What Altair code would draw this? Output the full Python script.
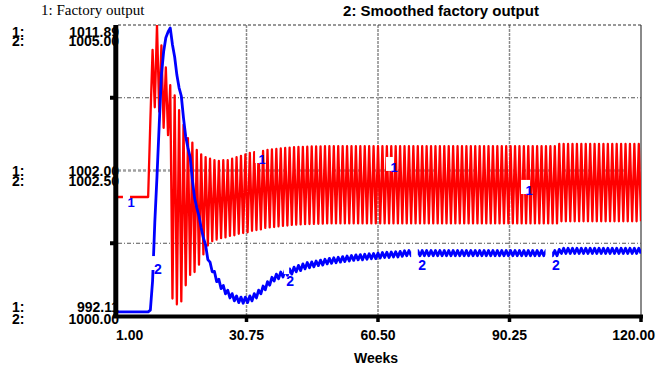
import altair as alt
import pandas as pd

# ---------------- data ----------------
weeks = list(range(1, 121))
half_weeks = [w + 0.5 for w in weeks[:-1]]

# 1: Factory output  (values at whole weeks and at half weeks)
red_on_week = [
    1000.2, 1000.2, 1000.2, 1000.2, 1000.2, 1000.2, 1000.2, 1000.2,
    1005.4, 1006.3, 1006.0, 1004.9, 1004.4, 993.3, 992.9, 993.1, 994.2, 994.9, 995.1, 995.6, 996.3,
    996.9, 997.2, 997.3, 997.4, 997.45, 997.55, 997.6, 997.7, 997.75, 997.8,
    997.9, 997.95, 998.0, 998.1, 998.13, 998.16, 998.2, 998.23, 998.26, 998.3,
    998.32, 998.34, 998.35, 998.36, 998.37, 998.38, 998.39, 998.4,
    998.4, 998.4, 998.4, 998.4, 998.4, 998.4, 998.4, 998.4, 998.4, 998.4, 998.4, 998.4, 998.4,
    998.4, 998.4, 998.4, 998.4, 998.4, 998.4, 998.4, 998.4, 998.4, 998.4, 998.4, 998.4, 998.4,
    998.4, 998.4, 998.4, 998.4, 998.4, 998.4, 998.4, 998.4, 998.4, 998.4, 998.4, 998.4, 998.4,
    998.4, 998.4, 998.4, 998.4, 998.4, 998.4, 998.4, 998.4, 998.4, 998.4, 998.4, 998.4, 998.4,
    998.55, 998.55, 998.55, 998.55, 998.55, 998.55, 998.55, 998.55, 998.55, 998.55,
    998.55, 998.55, 998.55, 998.55, 998.55, 998.55, 998.55, 998.55, 998.55,
]
red_mid_week = [
    1000.2, 1000.2, 1000.2, 1000.2, 1000.2, 1000.2, 1000.2, 1000.2,
    1010.2, 1011.9, 1010.5, 1009.0, 1007.8, 1007.1, 1006.1, 1005.1, 1004.2, 1003.9, 1003.4, 1003.1, 1002.9,
    1002.8, 1002.7, 1002.65, 1002.7, 1002.7, 1002.8, 1002.9, 1003.0, 1003.1, 1003.2,
    1003.25, 1003.3, 1003.33, 1003.4, 1003.43, 1003.46, 1003.5, 1003.53, 1003.56, 1003.58,
    1003.6, 1003.61, 1003.62, 1003.63, 1003.64, 1003.64, 1003.65, 1003.65,
    1003.65, 1003.65, 1003.65, 1003.65, 1003.65, 1003.65, 1003.65, 1003.65, 1003.65, 1003.65,
    1003.65, 1003.65, 1003.65, 1003.65, 1003.65, 1003.65, 1003.65, 1003.65, 1003.65, 1003.65,
    1003.65, 1003.65, 1003.65, 1003.65, 1003.65, 1003.65, 1003.65, 1003.65, 1003.65, 1003.65,
    1003.65, 1003.65, 1003.65, 1003.65, 1003.65, 1003.65, 1003.65, 1003.65, 1003.65, 1003.65,
    1003.65, 1003.65, 1003.65, 1003.65, 1003.65, 1003.65, 1003.65, 1003.65, 1003.65, 1003.65,
    1003.65,
    1003.8, 1003.8, 1003.8, 1003.8, 1003.8, 1003.8, 1003.8, 1003.8, 1003.8, 1003.8,
    1003.8, 1003.8, 1003.8, 1003.8, 1003.8, 1003.8, 1003.8, 1003.8, 1003.8,
]

# 2: Smoothed factory output
blue_on_week = [
    1000.07, 1000.07, 1000.07, 1000.07, 1000.07, 1000.07, 1000.07, 1000.07,
    1000.10, 1001.60, 1003.28, 1004.54, 1004.88, 1004.66, 1004.14, 1003.78, 1003.08, 1002.73, 1002.03, 1001.72, 1001.34,
    1000.97, 1000.76, 1000.59, 1000.47, 1000.38, 1000.31, 1000.26, 1000.23, 1000.22, 1000.23,
    1000.26, 1000.31, 1000.38, 1000.45, 1000.53, 1000.60, 1000.64, 1000.67, 1000.70, 1000.72,
    1000.76, 1000.78, 1000.81, 1000.83, 1000.845, 1000.865, 1000.875, 1000.895, 1000.905, 1000.915,
    1000.925, 1000.935, 1000.945, 1000.955, 1000.965, 1000.965, 1000.975, 1000.985, 1000.985, 1000.995,
    1001.005, 1001.005, 1001.015, 1001.015, 1001.025,
    1001.035, 1001.035, 1001.035, 1001.035, 1001.035, 1001.035, 1001.035, 1001.035, 1001.035, 1001.035,
    1001.035, 1001.035, 1001.035, 1001.035, 1001.035, 1001.035, 1001.035, 1001.035, 1001.035, 1001.035,
    1001.035, 1001.035, 1001.035, 1001.035, 1001.035, 1001.035, 1001.035, 1001.035, 1001.035, 1001.035,
    1001.035, 1001.035, 1001.035, 1001.035, 1001.035,
    1001.075, 1001.075, 1001.075, 1001.075, 1001.075, 1001.075, 1001.075, 1001.075, 1001.075, 1001.075,
    1001.075, 1001.075, 1001.075, 1001.075, 1001.075, 1001.075, 1001.075, 1001.075, 1001.075,
]
blue_mid_week = [
    1000.07, 1000.07, 1000.07, 1000.07, 1000.07, 1000.07, 1000.07, 1000.07,
    1000.60, 1002.40, 1004.14, 1004.78, 1004.95, 1004.45, 1003.92, 1003.40, 1002.89, 1002.34, 1001.86, 1001.51, 1001.22,
    1000.925, 1000.765, 1000.63, 1000.525, 1000.445, 1000.385, 1000.345, 1000.325, 1000.325, 1000.345,
    1000.385, 1000.445, 1000.515, 1000.59, 1000.665, 1000.72, 1000.755, 1000.785, 1000.81, 1000.84,
    1000.87, 1000.895, 1000.92, 1000.93, 1000.945, 1000.96, 1000.975, 1000.99, 1001.00, 1001.01,
    1001.02, 1001.03, 1001.04, 1001.05, 1001.055, 1001.06, 1001.07, 1001.075, 1001.08, 1001.09,
    1001.095, 1001.10, 1001.105, 1001.11, 1001.12,
    1001.125, 1001.125, 1001.125, 1001.125, 1001.125, 1001.125, 1001.125, 1001.125, 1001.125, 1001.125,
    1001.125, 1001.125, 1001.125, 1001.125, 1001.125, 1001.125, 1001.125, 1001.125, 1001.125, 1001.125,
    1001.125, 1001.125, 1001.125, 1001.125, 1001.125, 1001.125, 1001.125, 1001.125, 1001.125, 1001.125,
    1001.125, 1001.125, 1001.125, 1001.125,
    1001.145,
    1001.165, 1001.165, 1001.165, 1001.165, 1001.165, 1001.165, 1001.165, 1001.165, 1001.165,
    1001.165, 1001.165, 1001.165, 1001.165, 1001.165, 1001.165, 1001.165, 1001.165, 1001.165,
]

assert len(red_on_week) == 120 and len(blue_on_week) == 120
assert len(red_mid_week) == 119 and len(blue_mid_week) == 119

red_domain = [992.11, 1011.89]
blue_domain = [1000.0, 1005.0]
red_tick_labels = ["1011.89", "1002.00", "992.11"]
blue_tick_labels = ["1005.00", "1002.50", "1000.00"]
x_tick_values = [1, 30.75, 60.5, 90.25, 120]
x_tick_labels = ["1.00", "30.75", "60.50", "90.25", "120.00"]
x_grid = [30.75, 60.5, 90.25]
red_quarter_lines = [1006.945, 997.055]

# series label anchors (week, value on own scale)
label1_weeks = [4.62, 34.26, 64.12, 94.67]
label1_values = [999.82, 1002.71, 1002.17, 1000.61]
label2_weeks = [10.73, 40.6, 70.46, 100.77]
label2_values = [1000.79, 1000.58, 1000.86, 1000.86]
box1_w0 = [2.8, 32.7, 62.3, 92.85]
box1_w1 = [4.4, 34.0, 64.1, 94.9]
box1_v0 = [1000.67, 1003.39, 1002.92, 1001.36]
box1_v1 = [999.72, 1002.51, 1001.97, 1000.40]
box2_w0 = [8.9, 39.2, 68.0, 98.4]
box2_w1 = [10.1, 40.4, 69.5, 99.9]
box2_v0 = [1001.03, 1000.90, 1001.17, 1001.20]
box2_v1 = [1000.79, 1000.72, 1000.98, 1001.00]

# ---------------- chart ----------------
W, H = 526, 291
L, T = 115, 25
SANS = "Liberation Sans, Arial, Helvetica, sans-serif"
SERIF = "Liberation Serif, Times New Roman, serif"

red_df = pd.DataFrame({"week": weeks + half_weeks, "v": red_on_week + red_mid_week}).sort_values("week")
blue_df = pd.DataFrame({"week": weeks + half_weeks, "v": blue_on_week + blue_mid_week}).sort_values("week")

xs = alt.Scale(domain=[1, 120], nice=False, zero=False)
rys = alt.Scale(domain=red_domain, nice=False, zero=False)
bys = alt.Scale(domain=blue_domain, nice=False, zero=False)


def X(field="week"):
    return alt.X(f"{field}:Q", scale=xs, axis=None)


def RY(field="v"):
    return alt.Y(f"{field}:Q", scale=rys, axis=None)


def BY(field="v"):
    return alt.Y(f"{field}:Q", scale=bys, axis=None)


def txt(s, px, py, size=14, bold=True, font=SANS, align="left"):
    return alt.Chart(pd.DataFrame({"s": [s]})).mark_text(
        align=align, baseline="alphabetic", font=font, fontSize=size,
        fontWeight="bold" if bold else "normal", color="black"
    ).encode(text="s:N", x=alt.value(px - L), y=alt.value(py - T))


layers = []

# vertical grid
layers.append(alt.Chart(pd.DataFrame({"week": x_grid})).mark_rule(
    color="#8a8a8a", strokeWidth=1.5, strokeDash=[3, 1]
).encode(x=X(), y=alt.value(0), y2=alt.value(H)))
layers.append(alt.Chart(pd.DataFrame({"week": [120]})).mark_rule(
    color="#8a8a8a", strokeWidth=2
).encode(x=X(), y=alt.value(0), y2=alt.value(H)))

# horizontal grid
layers.append(alt.Chart(pd.DataFrame({"v": [red_domain[1]]})).mark_rule(
    color="#333333", strokeWidth=1, strokeDash=[3, 2]
).encode(y=RY(), x=alt.value(3), x2=alt.value(W)))
layers.append(alt.Chart(pd.DataFrame({"v": red_quarter_lines})).mark_rule(
    color="#555555", strokeWidth=1, strokeDash=[4, 2, 1, 2]
).encode(y=RY(), x=alt.value(3), x2=alt.value(W)))
layers.append(alt.Chart(pd.DataFrame({"v": [1002.0]})).mark_rule(
    color="#a0a0a0", strokeWidth=2.5, strokeDash=[3, 2]
).encode(y=RY(), x=alt.value(3), x2=alt.value(W)))

# series
layers.append(alt.Chart(red_df).mark_line(
    color="#ff0000", strokeWidth=2.3, clip=True, strokeJoin="round"
).encode(x=X(), y=RY()))
layers.append(alt.Chart(blue_df).mark_line(
    color="#0000ff", strokeWidth=2.8, clip=True, strokeJoin="round"
).encode(x=X(), y=BY()))

# label boxes and series labels
layers.append(alt.Chart(pd.DataFrame({"w0": box1_w0, "w1": box1_w1, "v0": box1_v0, "v1": box1_v1})).mark_rect(
    color="white").encode(x=X("w0"), x2="w1", y=RY("v0"), y2="v1"))
layers.append(alt.Chart(pd.DataFrame({"w0": box2_w0, "w1": box2_w1, "v0": box2_v0, "v1": box2_v1})).mark_rect(
    color="white").encode(x=X("w0"), x2="w1", y=BY("v0"), y2="v1"))
layers.append(alt.Chart(pd.DataFrame({"week": label1_weeks, "v": label1_values, "s": ["1", "1", "1", "1"]})).mark_text(
    color="#0000ff", font=SANS, fontSize=13, fontWeight="bold", align="center", baseline="middle"
).encode(x=X(), y=RY(), text="s:N"))
layers.append(alt.Chart(pd.DataFrame({"week": label2_weeks, "v": label2_values, "s": ["2", "2", "2", "2"]})).mark_text(
    color="#0000ff", font=SANS, fontSize=14, fontWeight="bold", align="center", baseline="middle"
).encode(x=X(), y=BY(), text="s:N"))

# y-axis labels (behind the axis line)
y_rows = [(36.7, 45.5), (176, 186), (311.7, 324)]
for (b1, b2), r, b in zip(y_rows, red_tick_labels, blue_tick_labels):
    layers.append(txt("1:", 12, b1))
    layers.append(txt("2:", 12, b2))
    layers.append(txt(r, 119, b1, align="right"))
    layers.append(txt(b, 119, b2, align="right"))

# axis lines and ticks
layers.append(alt.Chart(pd.DataFrame({"a": [0]})).mark_rule(color="black", strokeWidth=5, strokeCap="butt").encode(
    x=alt.value(0.8), y=alt.value(0), y2=alt.value(H + 2)))
layers.append(alt.Chart(pd.DataFrame({"a": [0]})).mark_rule(color="black", strokeWidth=4, strokeCap="butt").encode(
    y=alt.value(H + 0.5), x=alt.value(-2), x2=alt.value(W + 2)))
layers.append(alt.Chart(pd.DataFrame({"week": x_tick_values[1:]})).mark_rule(
    color="black", strokeWidth=3.5, strokeCap="butt").encode(x=X(), y=alt.value(H + 2), y2=alt.value(H + 6)))
layers.append(alt.Chart(pd.DataFrame({"v": red_quarter_lines})).mark_rule(
    color="black", strokeWidth=4, strokeCap="butt").encode(y=RY(), x=alt.value(-5), x2=alt.value(-1)))

# x tick labels
for i, (w, s) in enumerate(zip(x_tick_values, x_tick_labels)):
    if i == 0:
        align, dx = "left", 1
    elif i == len(x_tick_values) - 1:
        align, dx = "right", 14
    else:
        align, dx = "center", 0
    layers.append(alt.Chart(pd.DataFrame({"week": [w], "s": [s]})).mark_text(
        align=align, dx=dx, baseline="alphabetic", font=SANS, fontSize=14, fontWeight="bold", color="black"
    ).encode(x=X(), y=alt.value(340 - T), text="s:N"))

# titles
layers.append(txt("Weeks", 376, 363, size=14, align="center"))
layers.append(txt("1: Factory output", 41, 15, size=15, bold=False, font=SERIF))
layers.append(txt("2: Smoothed factory output", 441, 16, size=15, align="center"))

chart = alt.layer(*layers).resolve_scale(y="independent").properties(
    width=W, height=H,
    autosize=alt.AutoSizeParams(type="none"),
    padding={"left": L, "top": T, "right": 659 - L - W, "bottom": 372 - T - H},
    background="white",
).configure_view(stroke=None)

chart.save("out.html", embed_options={"renderer": "svg", "actions": False})
